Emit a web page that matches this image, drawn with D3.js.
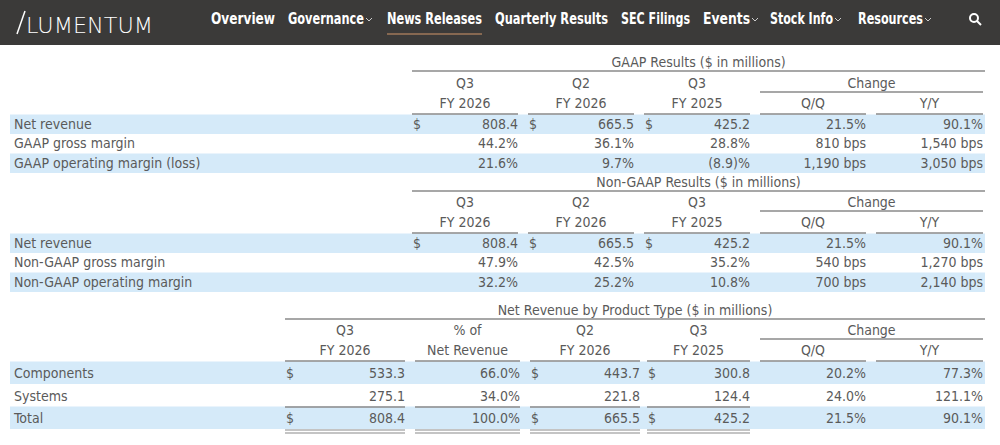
<!DOCTYPE html>
<html><head><meta charset="utf-8">
<script src="https://cdn.jsdelivr.net/npm/d3@7"></script>
<style>
body{margin:0;background:#fff}
text{font-family:"Liberation Sans Narrow","DejaVu Sans Condensed",sans-serif;}
</style></head><body>
<svg id="c" width="1000" height="445"></svg>
<script>
const navItems = ["Overview","Governance","News Releases","Quarterly Results","SEC Filings","Events","Stock Info","Resources"];
const navHasCaret = [false,true,false,false,false,true,true,true];
const navX = [211,288,387,495,621,703,770,858];
const navW = [64,76,95,113,69,47,63,65];

const gaapTitle = "GAAP Results ($ in millions)";
const nonGaapTitle = "Non-GAAP Results ($ in millions)";
const productTitle = "Net Revenue by Product Type ($ in millions)";
const periodTop = ["Q3","Q2","Q3"];
const periodBottom = ["FY 2026","FY 2026","FY 2025"];
const changeHeads = ["Q/Q","Y/Y"];

const gaapRows = ["Net revenue","GAAP gross margin","GAAP operating margin (loss)"];
const gaapValues = [["808.4","665.5","425.2","21.5%","90.1%"],["44.2%","36.1%","28.8%","810 bps","1,540 bps"],["21.6%","9.7%","(8.9)%","1,190 bps","3,050 bps"]];
const nonGaapRows = ["Net revenue","Non-GAAP gross margin","Non-GAAP operating margin"];
const nonGaapValues = [["808.4","665.5","425.2","21.5%","90.1%"],["47.9%","42.5%","35.2%","540 bps","1,270 bps"],["32.2%","25.2%","10.8%","700 bps","2,140 bps"]];
const productRows = ["Components","Systems","Total"];
const productTop = ["Q3","% of","Q2","Q3"];
const productBottom = ["FY 2026","Net Revenue","FY 2026","FY 2025"];
const productValues = [["533.3","66.0%","443.7","300.8","20.2%","77.3%"],["275.1","34.0%","221.8","124.4","24.0%","121.1%"],["808.4","100.0%","665.5","425.2","21.5%","90.1%"]];
const productDollar = [true,false,true];

const svg = d3.select("#c");
const TXT="#5a5a5a", LINE="#8a8a8a", BAND="#d5eaf9";
svg.append("rect").attr("width",1000).attr("height",45).attr("fill","#3b3a39");
svg.append("line").attr("x1",17).attr("y1",34).attr("x2",25).attr("y2",11).attr("stroke","#fff").attr("stroke-width",1.5);
svg.append("text").attr("x",26).attr("y",33).attr("fill","#fff").attr("font-size",21).style("font-family","'DejaVu Sans',sans-serif").style("font-weight",300).attr("textLength",127).attr("lengthAdjust","spacingAndGlyphs").text("LUMENTUM");
navItems.forEach((n,i)=>{
  svg.append("text").attr("x",navX[i]).attr("y",24).attr("fill","#fff").attr("font-size",15).attr("font-weight","bold")
    .attr("textLength",navW[i]).attr("lengthAdjust","spacingAndGlyphs").text(n);
  const w=navW[i];
  if(navHasCaret[i]) svg.append("path").attr("d",`M${navX[i]+w+2},18 l3,3 l3,-3`).attr("fill","none").attr("stroke","#ccc");
  if(i===2) svg.append("line").attr("x1",navX[i]).attr("x2",navX[i]+w).attr("y1",34).attr("y2",34).attr("stroke","#a0785a").attr("stroke-width",1.5);
});
svg.append("circle").attr("cx",974).attr("cy",18).attr("r",4).attr("fill","none").attr("stroke","#fff").attr("stroke-width",2);
svg.append("line").attr("x1",977).attr("y1",21).attr("x2",981).attr("y2",25).attr("stroke","#fff").attr("stroke-width",2);

function txt(x,y,s,anchor){svg.append("text").attr("x",x).attr("y",y).attr("fill",TXT).attr("font-size",14).attr("text-anchor",anchor||"start").attr("dominant-baseline","middle").text(s);}
function ln(x1,x2,y,w){svg.append("line").attr("x1",x1).attr("x2",x2).attr("y1",y).attr("y2",y).attr("stroke",LINE).attr("stroke-width",w||1.3);}

function table(o){
  const cols=o.cols;
  const yS=d3.scaleBand().domain(d3.range(o.rows.length)).range([o.rowTop,o.rowTop+o.rowH*o.rows.length]);
  o.bands.forEach(i=>svg.append("rect").attr("x",10).attr("width",975).attr("y",yS(i)).attr("height",yS.bandwidth()).attr("fill",BAND));
  txt((cols[0][0]+985)/2,o.titleY,o.title,"middle");
  ln(cols[0][0],985,o.titleY+8);
  const nP=o.top.length;
  o.top.forEach((s,i)=>{txt((cols[i][0]+cols[i][1])/2,o.h1,s,"middle");txt((cols[i][0]+cols[i][1])/2,o.h2,o.bottom[i],"middle");});
  const c1=cols[nP],c2=cols[nP+1];
  txt((c1[0]+c2[1])/2,o.h1,"Change","middle"); ln(c1[0],c2[1],o.h1+8);
  txt((c1[0]+c1[1])/2,o.h2,changeHeads[0],"middle");txt((c2[0]+c2[1])/2,o.h2,changeHeads[1],"middle");
  cols.forEach(c=>ln(c[0],c[1],o.h2+10));
  o.rows.forEach((r,i)=>{
    const y=yS(i)+yS.bandwidth()/2+o.textDy;
    txt(14,y,r);
    o.values[i].forEach((v,j)=>{
      txt(cols[j][1],y,v,"end");
      if(o.dollar(i,j)) txt(cols[j][0]+1,y,"$");
    });
  });
  if(o.after) o.after(yS,cols);
}
const c5=[[412,518],[528,634],[644,750],[760,866],[876,983]];
const dollarRev=(i,j)=>i===0&&j<3;
table({title:gaapTitle,titleY:63,h1:84,h2:104,rowTop:114.5,rowH:19.5,bands:[0,2],rows:gaapRows,values:gaapValues,top:periodTop,bottom:periodBottom,cols:c5,dollar:dollarRev,textDy:0.5});
table({title:nonGaapTitle,titleY:183,h1:203,h2:223,rowTop:233.5,rowH:19.5,bands:[0,2],rows:nonGaapRows,values:nonGaapValues,top:periodTop,bottom:periodBottom,cols:c5,dollar:dollarRev,textDy:0.5});
const c6=[[285,405],[415,520],[530,640],[647,750],[760,866],[876,983]];
table({title:productTitle,titleY:311,h1:331,h2:351,rowTop:361.5,rowH:22.5,bands:[0,2],rows:productRows,values:productValues,top:productTop,bottom:productBottom,cols:c6,
  dollar:(i,j)=>productDollar[i]&&(j===0||j===2||j===3),textDy:1.5,
  after:(yS,cols)=>{for(let j=0;j<4;j++){ln(cols[j][0],cols[j][1],yS(2)+0.5);ln(cols[j][0],cols[j][1],yS(2)+yS.bandwidth()+1,1.2);ln(cols[j][0],cols[j][1],yS(2)+yS.bandwidth()+4,1.2);}}});
</script></body></html>
